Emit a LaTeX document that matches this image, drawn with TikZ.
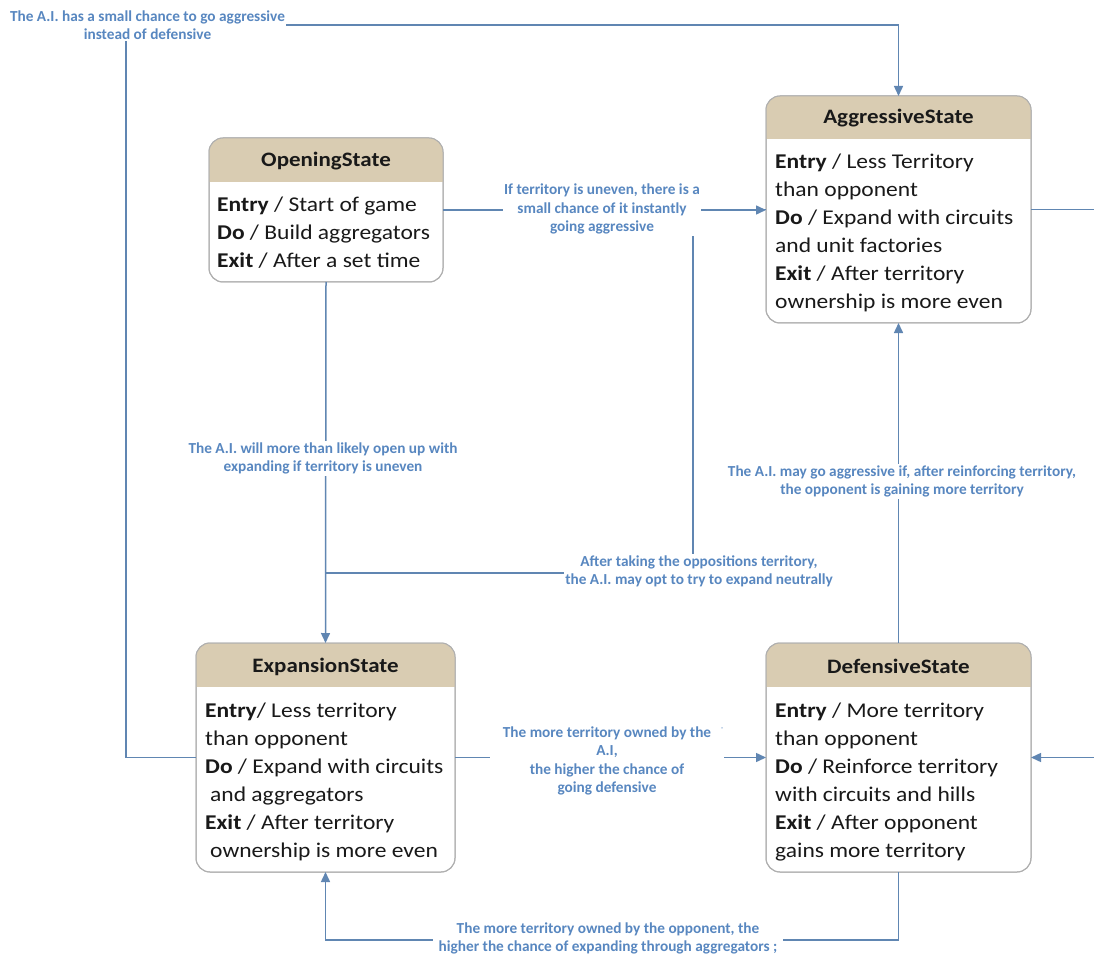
\documentclass[tikz,border=0pt]{standalone}
\usepackage{fontspec}
\setmainfont{Carlito}
\newfontfamily\wideface{Carlito}[FakeStretch=1.12]
\usetikzlibrary{arrows.meta}
\definecolor{linec}{RGB}{96,134,178}
\definecolor{lblc}{RGB}{88,135,192}
\definecolor{hdr}{RGB}{217,204,178}
\definecolor{boxgray}{RGB}{175,175,175}
\definecolor{bodyc}{RGB}{25,25,25}
\tikzset{
  statebox/.style={draw=boxgray, line width=1pt, rounded corners=14pt, fill=white, inner sep=0pt, outer sep=0pt},
  ttl/.style={font=\wideface\fontsize{20.5}{24}\selectfont\bfseries, text=bodyc, inner sep=0pt},
  bodytxt/.style={font=\wideface\fontsize{21}{28}\selectfont, text=bodyc, align=left, inner sep=0pt, anchor=north west},
  conn/.style={draw=linec, line width=1.5pt},
  arr/.style={conn, -{Triangle[length=10pt,width=9pt]}},
  lbl/.style={font=\fontsize{15.3}{18.5}\selectfont\bfseries, text=lblc, fill=white, align=center, inner sep=1.5pt},
}
\begin{document}
\begin{tikzpicture}[x=1pt,y=-1pt]
\useasboundingbox (0,0) rectangle (1094,957);
\clip (0,0) rectangle (1094,957);
\fill[white] (0,0) rectangle (1094,957);

% state boxes
\node[statebox, minimum width=234pt, minimum height=144pt] (op) at (326,210) {};
\node[statebox, minimum width=265pt, minimum height=227pt] (agg) at (898.5,209.5) {};
\node[statebox, minimum width=259pt, minimum height=229pt] (exp) at (325.5,757.5) {};
\node[statebox, minimum width=265pt, minimum height=229pt] (def) at (898.5,757.5) {};

\foreach \n/\h in {op/44pt,agg/43pt,exp/44pt,def/44pt}{
  \begin{scope}
    \clip[rounded corners=14pt] (\n.south west) rectangle (\n.north east);
    \fill[hdr] (\n.north west) rectangle ([yshift=-\h]\n.north east);
  \end{scope}
  \draw[draw=boxgray, line width=1pt, rounded corners=14pt] (\n.south west) rectangle (\n.north east);
}

% titles
\node[ttl] (opT) at ([yshift=-23.5pt]op.north) {OpeningState};
\node[ttl] (aggT) at ([yshift=-22.5pt]agg.north) {AggressiveState};
\node[ttl] (expT) at ([yshift=-23.5pt]exp.north) {ExpansionState};
\node[ttl] (defT) at ([yshift=-23.5pt]def.north) {DefensiveState};

% bodies
\node[bodytxt] (opB) at ([shift={(8pt,-54pt)}]op.north west)
  {\strut\textbf{Entry} / Start of game\\\textbf{Do} / Build aggregators\\\textbf{Exit} / After a set time};
\node[bodytxt] (aggB) at ([shift={(9pt,-53pt)}]agg.north west)
  {\strut\textbf{Entry} / Less Territory\\than opponent\\\textbf{Do} / Expand with circuits\\and unit factories\\\textbf{Exit} / After territory\\ownership is more even};
\node[bodytxt] (expB) at ([shift={(9pt,-55pt)}]exp.north west)
  {\strut\textbf{Entry}/ Less territory\\than opponent\\\textbf{Do} / Expand with circuits\\\hspace{5pt}and aggregators\\\textbf{Exit} / After territory\\\hspace{5pt}ownership is more even};
\node[bodytxt] (defB) at ([shift={(9pt,-55pt)}]def.north west)
  {\strut\textbf{Entry} / More territory\\than opponent\\\textbf{Do} / Reinforce territory\\with circuits and hills\\\textbf{Exit} / After opponent\\gains more territory};

% helper coordinates
\coordinate (tl) at (126,25);
\coordinate (j) at (693,573);
\coordinate (r) at (1104,480);
\coordinate (b) at (608,940);

% connectors
\draw[arr] (exp.west) -| (tl) -| (agg.north);
\draw[arr] (op.east) -- (agg.west |- op.east);
\draw[conn] (agg.west) -| (j) -- (exp.north |- j);
\draw[arr] (op.south) -- (exp.north);
\draw[arr] (def.north) -- (agg.south);
\draw[arr] (exp.east) -- (def.west);
\draw[arr] (agg.east) -| (r) |- (def.east);
\draw[arr] (def.south) |- (b) -| (exp.south);

% labels
\node[lbl] (l1) at (147.5,25) {The A.I. has a small chance to go aggressive\\instead of defensive};
\node[lbl] (l2) at (602,209) {If territory is uneven, there is a\\small chance of it instantly\\going aggressive};
\node[lbl] (l3) at (323,458.5) {The A.I. will more than likely open up with\\expanding if territory is uneven};
\node[lbl] (l4) at (699,571.5) {After taking the oppositions territory,\\the A.I. may opt to try to expand neutrally};
\node[lbl] (l5) at (902,481.5) {The A.I. may go aggressive if, after reinforcing territory,\\the opponent is gaining more territory};
\node[lbl, inner xsep=13pt] (l6) at (607,761) {The more territory owned by the\\A.I,\\the higher the chance of\\going defensive};
\node[lbl, inner xsep=6pt] (l7) at (608,938.5) {The more territory owned by the opponent, the\\higher the chance of expanding through aggregators ;};
\node[font=\fontsize{8}{8}\selectfont, text=lblc, inner sep=0pt] (cm) at (722,729) {,};
\end{tikzpicture}
\end{document}
